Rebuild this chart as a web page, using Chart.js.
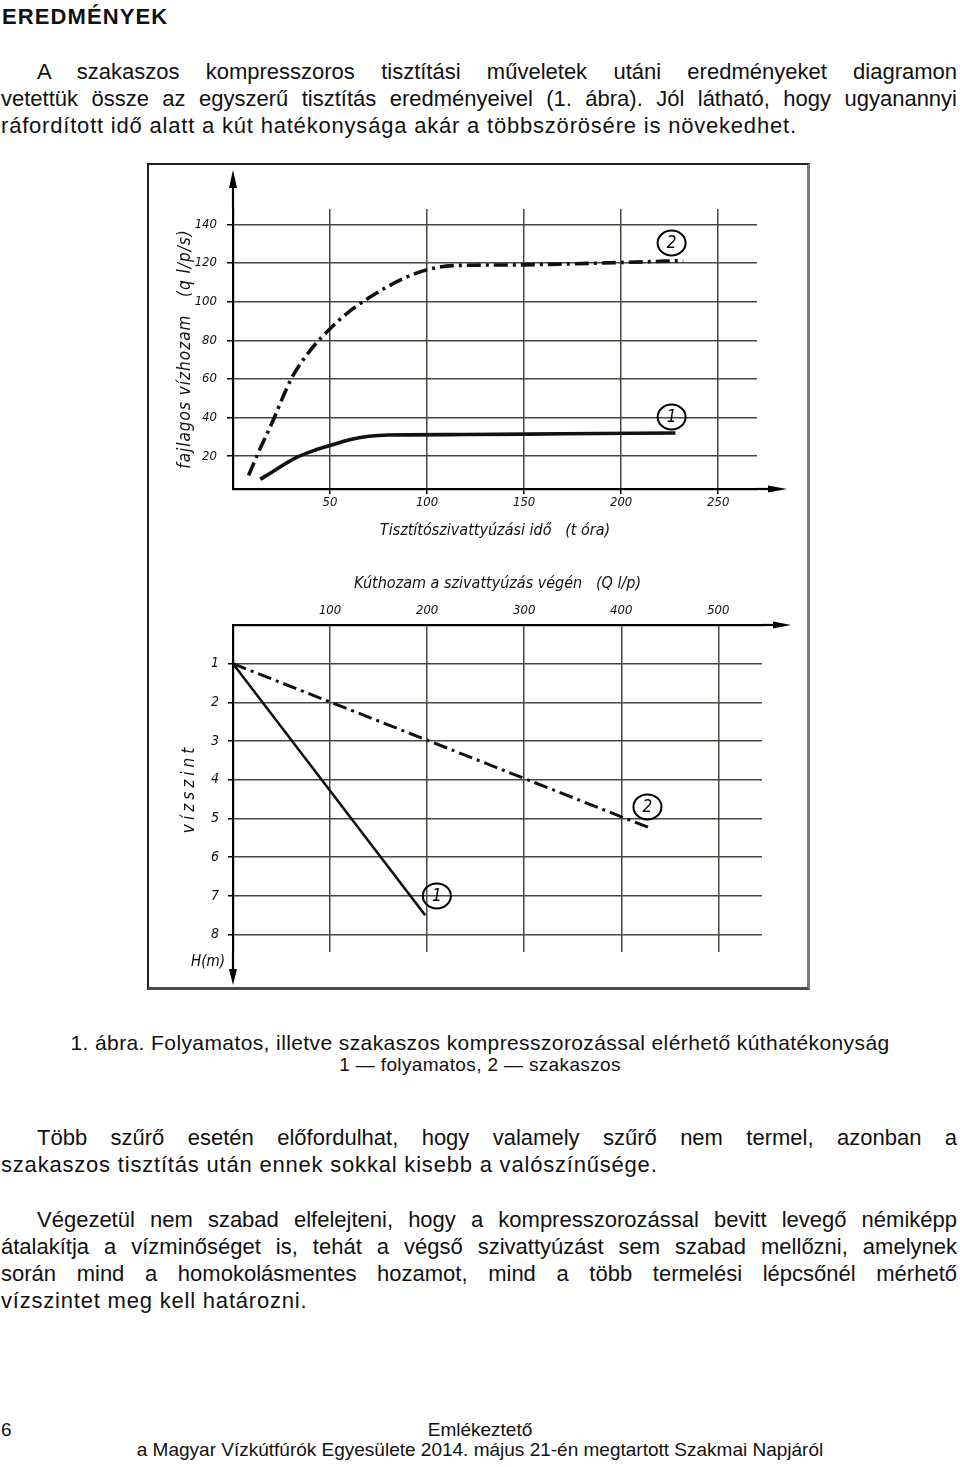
<!DOCTYPE html>
<html lang="hu">
<head>
<meta charset="utf-8">
<title>Eredmények</title>
<script src="https://cdn.jsdelivr.net/npm/chart.js@4.4.1/dist/chart.umd.min.js"></script>
<style>
  html, body { margin:0; padding:0; background:#fff; }
  body { width:960px; height:1467px; position:relative; overflow:hidden;
         font-family:"Liberation Sans", Arial, sans-serif; color:#111; }
  .blk { position:absolute; left:1px; width:956px; font-size:22px; line-height:27px; }
  .blk div { letter-spacing:0.8px; }
  .blk div.j { text-align:justify; text-align-last:justify; letter-spacing:0; }
  .blk div.ind { padding-left:36px; }
  h1 { position:absolute; left:2px; top:3px; margin:0; font-size:22px; line-height:27px; letter-spacing:1.1px; }
  .cap1 { position:absolute; left:0; width:960px; top:1030px; text-align:center; font-size:21px; line-height:25px; letter-spacing:0.4px; }
  .cap2 { position:absolute; left:0; width:960px; top:1054px; text-align:center; font-size:19px; line-height:22px; letter-spacing:0.35px; }
  .foot { position:absolute; font-size:19px; line-height:20px; }
  #frame { position:absolute; left:147px; top:163px; width:663px; height:827px; box-sizing:border-box;
           border-top:2px solid #222; border-left:2px solid #222; border-right:3px solid #7a7a7a; border-bottom:3px solid #4a4a4a; }
  canvas { position:absolute; }
</style>
</head>
<body>
<h1>EREDMÉNYEK</h1>

<div class="blk" style="top:58px">
  <div class="j ind">A szakaszos kompresszoros tisztítási műveletek utáni eredményeket diagramon</div>
  <div class="j">vetettük össze az egyszerű tisztítás eredményeivel (1. ábra). Jól látható, hogy ugyanannyi</div>
  <div>ráfordított idő alatt a kút hatékonysága akár a többszörösére is növekedhet.</div>
</div>

<div id="frame"></div>
<canvas id="felso" width="659" height="395" style="left:149px; top:165px"></canvas>
<canvas id="also" width="659" height="428" style="left:149px; top:560px"></canvas>

<div class="cap1">1. ábra. Folyamatos, illetve szakaszos kompresszorozással elérhető kúthatékonyság</div>
<div class="cap2">1 — folyamatos, 2 — szakaszos</div>

<div class="blk" style="top:1124px">
  <div class="j ind">Több szűrő esetén előfordulhat, hogy valamely szűrő nem termel, azonban a</div>
  <div>szakaszos tisztítás után ennek sokkal kisebb a valószínűsége.</div>
</div>

<div class="blk" style="top:1206px">
  <div class="j ind">Végezetül nem szabad elfelejteni, hogy a kompresszorozással bevitt levegő némiképp</div>
  <div class="j">átalakítja a vízminőséget is, tehát a végső szivattyúzást sem szabad mellőzni, amelynek</div>
  <div class="j">során mind a homokolásmentes hozamot, mind a több termelési lépcsőnél mérhető</div>
  <div>vízszintet meg kell határozni.</div>
</div>

<div class="foot" style="left:1px; top:1420px">6</div>
<div class="foot" style="left:0; width:960px; top:1420px; text-align:center">Emlékeztető</div>
<div class="foot" style="left:0; width:960px; top:1440px; text-align:center">a Magyar Vízkútfúrók Egyesülete 2014. május 21-én megtartott Szakmai Napjáról</div>

<script>
// felső diagram: fajlagos vízhozam a tisztítószivattyúzási idő függvényében
const idoSzakaszos = [8, 14, 20, 30, 40, 50, 60, 70, 80, 90, 100, 113, 140, 170, 200, 232];
const hozamSzakaszos = [10, 24, 37, 60, 75, 86, 95, 102, 108, 113, 116.5, 118.7, 119, 119.5, 120.3, 121.3];
const idoFolyamatos = [14, 22, 32, 42, 50, 60, 70, 80, 120, 170, 228];
const hozamFolyamatos = [8, 13, 19, 23, 25.5, 28.5, 30.3, 31, 31.2, 31.6, 32];
const idoTicks = [50, 100, 150, 200, 250];
const hozamTicks = [20, 40, 60, 80, 100, 120, 140];
const jelekFelso = [{x: 226, y: 130.4, t: "2"}, {x: 226, y: 40.3, t: "1"}];

// alsó diagram: vízszint a kúthozam függvényében
const kuthozamFolyamatos = [0, 198];
const szintFolyamatos = [1, 7.5];
const kuthozamSzakaszos = [0, 430];
const szintSzakaszos = [1, 5.25];
const kuthozamTicks = [100, 200, 300, 400, 500];
const szintTicks = [1, 2, 3, 4, 5, 6, 7, 8];
const jelekAlso = [{x: 210, y: 7.0, t: "1"}, {x: 427, y: 4.7, t: "2"}];

Chart.defaults.font.family = "'DejaVu Sans Condensed', 'Liberation Sans Narrow', 'DejaVu Sans', sans-serif";
Chart.defaults.font.style = "italic";
Chart.defaults.color = "#111";
Chart.defaults.animation = false;

const GRID = "#48483e";
const DASHDOT = [14, 5, 3, 5];

const zip = (xs, ys) => xs.map((x, i) => ({x, y: ys[i]}));
const useTicks = list => s => { s.ticks = list.map(v => ({value: v})); };
const fixWidth = w => s => { s.width = w; };
const fixHeight = h => s => { s.height = h; };

function arrow(ctx, x0, y0, x1, y1, len, half) {
  const dx = x1 - x0, dy = y1 - y0, d = Math.hypot(dx, dy);
  const ux = dx / d, uy = dy / d;
  const bx = x1 - ux * len, by = y1 - uy * len;
  ctx.beginPath(); ctx.moveTo(x0, y0); ctx.lineTo(bx, by); ctx.stroke();
  ctx.beginPath(); ctx.moveTo(x1, y1);
  ctx.lineTo(bx - uy * half, by + ux * half);
  ctx.lineTo(bx + uy * half, by - ux * half);
  ctx.closePath(); ctx.fill();
}

// tengelynyilak, bekarikázott görbeszámok, kiegészítő feliratok
const rajzPlugin = {
  id: "rajz",
  beforeDraw(chart, args, o) {
    const s = chart.scales.y;
    if (o.spacing && !s._spaced) {
      const orig = s.drawTitle;
      s.drawTitle = function() {
        this.ctx.save(); this.ctx.letterSpacing = o.spacing; orig.call(this); this.ctx.restore();
      };
      s._spaced = true;
    }
  },
  afterDraw(chart, args, o) {
    const {ctx, chartArea: a, scales} = chart;
    ctx.save();
    ctx.strokeStyle = "#000"; ctx.fillStyle = "#000"; ctx.lineWidth = 2.2;
    if (o.up) arrow(ctx, a.left, a.top, a.left, a.top - o.up, 18, 4);
    if (o.down) arrow(ctx, a.left, a.bottom, a.left, a.bottom + o.down, 16, 4);
    if (o.rightBottom) arrow(ctx, a.right, a.bottom, a.right + o.rightBottom, a.bottom, 19, 3.5);
    if (o.rightTop) arrow(ctx, a.right, a.top, a.right + o.rightTop, a.top, 18, 3.5);
    (o.jelek || []).forEach(j => {
      const px = scales.x.getPixelForValue(j.x), py = scales.y.getPixelForValue(j.y);
      ctx.lineWidth = 2;
      ctx.beginPath(); ctx.ellipse(px, py, 14, 12.5, 0, 0, Math.PI * 2); ctx.stroke();
      ctx.font = "italic 17px 'DejaVu Sans Condensed', 'DejaVu Sans', sans-serif";
      ctx.textAlign = "center"; ctx.textBaseline = "middle";
      ctx.fillText(j.t, px, py + 1);
    });
    if (o.felirat) {
      ctx.font = "italic 15px 'DejaVu Sans Condensed', 'DejaVu Sans', sans-serif";
      ctx.textAlign = "center"; ctx.textBaseline = "middle";
      ctx.fillText(o.felirat.t, a.left + o.felirat.dx, a.bottom + o.felirat.dy);
    }
    ctx.restore();
  }
};

const lineStyle = {pointRadius: 0, showLine: true, borderColor: "#111", borderCapStyle: "butt", fill: false};

new Chart(document.getElementById("felso"), {
  type: "scatter",
  data: {
    datasets: [
      {label: "2 — szakaszos", data: zip(idoSzakaszos, hozamSzakaszos), borderWidth: 3.6,
       borderDash: DASHDOT, cubicInterpolationMode: "monotone", ...lineStyle},
      {label: "1 — folyamatos", data: zip(idoFolyamatos, hozamFolyamatos), borderWidth: 3.6,
       cubicInterpolationMode: "monotone", ...lineStyle}
    ]
  },
  options: {
    responsive: false, devicePixelRatio: 1,
    layout: {padding: {left: 0, right: 51, top: 44, bottom: 0}},
    plugins: {legend: {display: false}, tooltip: {enabled: false},
      rajz: {up: 39, rightBottom: 30, jelek: jelekFelso, spacing: "1px"}},
    scales: {
      x: {type: "linear", min: 0, max: 270, afterBuildTicks: useTicks(idoTicks), afterFit: fixHeight(71),
          grid: {color: GRID, lineWidth: 1.5, tickLength: 5, tickColor: "#000"},
          border: {color: "#000", width: 2.2},
          ticks: {padding: 1, autoSkip: false, maxRotation: 0, font: {size: 13}, callback: v => String(v)},
          title: {display: true, text: "Tisztítószivattyúzási idő   (t óra)", font: {size: 16}, padding: {top: 0, bottom: 20}}},
      y: {type: "linear", min: 3, max: 148, afterBuildTicks: useTicks(hozamTicks), afterFit: fixWidth(84),
          grid: {color: GRID, lineWidth: 1.5, tickLength: 6, tickColor: "#000"},
          border: {color: "#000", width: 2.2},
          ticks: {padding: 10, autoSkip: false, font: {size: 13}, callback: v => String(v)},
          title: {display: true, text: "fajlagos vízhozam   (q l/p/s)", font: {size: 17}, padding: {top: 26, bottom: 0}}}
    }
  },
  plugins: [rajzPlugin]
});

new Chart(document.getElementById("also"), {
  type: "scatter",
  data: {
    datasets: [
      {label: "1 — folyamatos", data: zip(kuthozamFolyamatos, szintFolyamatos), borderWidth: 2.6, ...lineStyle},
      {label: "2 — szakaszos", data: zip(kuthozamSzakaszos, szintSzakaszos), borderWidth: 3,
       borderDash: DASHDOT, ...lineStyle}
    ]
  },
  options: {
    responsive: false, devicePixelRatio: 1,
    layout: {padding: {left: 0, right: 46, top: 0, bottom: 36}},
    plugins: {legend: {display: false}, tooltip: {enabled: false},
      rajz: {down: 33, rightTop: 29, jelek: jelekAlso, spacing: "4px", felirat: {t: "H(m)", dx: -25, dy: 10}}},
    scales: {
      x: {type: "linear", position: "top", min: 0, max: 545, afterBuildTicks: useTicks(kuthozamTicks), afterFit: fixHeight(65),
          grid: {color: GRID, lineWidth: 1.5, drawTicks: false},
          border: {color: "#000", width: 2.2},
          ticks: {padding: 7, autoSkip: false, maxRotation: 0, font: {size: 13}, callback: v => String(v)},
          title: {display: true, text: "Kúthozam a szivattyúzás végén   (Q l/p)", font: {size: 16}, padding: {top: 14, bottom: 0}}},
      y: {type: "linear", reverse: true, min: 0, max: 8.45, afterBuildTicks: useTicks(szintTicks), afterFit: fixWidth(84),
          grid: {color: GRID, lineWidth: 1.5, tickLength: 5, tickColor: "#000"},
          border: {color: "#000", width: 2.2},
          ticks: {padding: 9, autoSkip: false, font: {size: 14}, callback: v => String(v)},
          title: {display: true, text: "vízszint", font: {size: 17}, padding: {top: 30, bottom: 0}}}
    }
  },
  plugins: [rajzPlugin]
});
</script>
</body>
</html>
